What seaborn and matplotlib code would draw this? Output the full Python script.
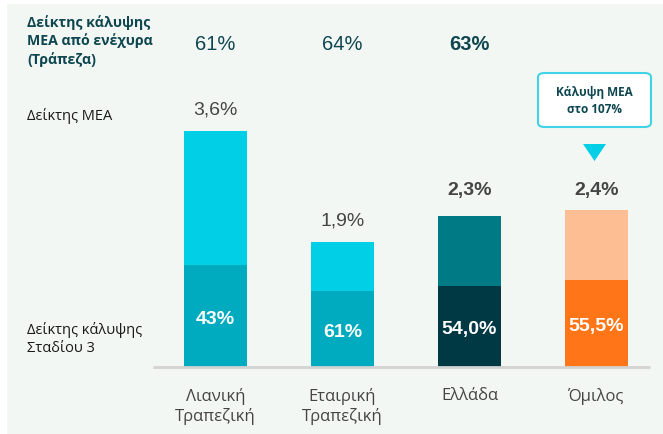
import matplotlib
matplotlib.use("Agg")
import matplotlib.pyplot as plt
import seaborn as sns
import pandas as pd
from matplotlib.patches import FancyBboxPatch, Polygon, Rectangle

# data
categories = ["Λιανική\nΤραπεζική", "Εταιρική\nΤραπεζική", "Ελλάδα", "Όμιλος"]
npe_ratio = [3.6, 1.9, 2.3, 2.4]
npe_labels = ["3,6%", "1,9%", "2,3%", "2,4%"]
stage3_coverage = [0.43, 0.61, 0.54, 0.555]
stage3_labels = ["43%", "61%", "54,0%", "55,5%"]
collateral_coverage = ["61%", "64%", "63%"]

top_colors = ["#00cfe6", "#00cfe6", "#007a85", "#fdbe94"]
low_colors = ["#00abbf", "#00abbf", "#003843", "#ff7518"]
bold_cols = [False, False, True, True]

BG = "#f3f7f4"
DARK = "#0e4650"
GREY = "#454545"

df = pd.DataFrame(dict(cat=categories, total=npe_ratio,
                       low=[t * c for t, c in zip(npe_ratio, stage3_coverage)]))

W, H = 663, 435
fig = plt.figure(figsize=(W / 100, H / 100), dpi=100)
fig.patch.set_facecolor("white")
fig.patches.append(Rectangle((7 / W, 0), 1, 1 - 5 / H, transform=fig.transFigure,
                             facecolor=BG, edgecolor="none", zorder=-5))

base_px = 368
unit_px = 65.6
ax = fig.add_axes([0, (H - base_px) / H, 1, base_px / H])
ax.set_facecolor("none")

sns.barplot(df, x="cat", y="total", hue="cat", palette=top_colors, legend=False,
            width=0.5, saturation=1, ax=ax)
sns.barplot(df, x="cat", y="low", hue="cat", palette=low_colors, legend=False,
            width=0.5, saturation=1, ax=ax)

spacing = 127
x0 = 215.5
ax.set_xlim(-x0 / spacing, (W - x0) / spacing)
ax.set_ylim(0, base_px / unit_px)
ax.axis("off")
ax.plot([(153 - x0) / spacing, (650 - x0) / spacing], [0, 0], color="#d3d3d3",
        lw=2, solid_capstyle="butt", clip_on=False)

num_font = "Liberation Sans"
txt_font = "Open Sans"

for i, (tot, lab, low, slab, b) in enumerate(zip(npe_ratio, npe_labels, df["low"],
                                                 stage3_labels, bold_cols)):
    top_y = 2.36 if i >= 2 else tot
    ax.annotate(lab, (i, top_y), xytext=(0, 16), textcoords="offset points",
                ha="center", va="center", fontsize=14, color=GREY,
                fontweight="bold" if b else "normal", family=num_font)
    ax.text(i, low / 2 - 0.04, slab, ha="center", va="center", fontsize=14,
            color="white", fontweight="bold", family=num_font)
    ax.text(i, -0.30, categories[i], ha="center", va="top", fontsize=12,
            color=GREY, family=txt_font, linespacing=1.25)

for i, lab in enumerate(collateral_coverage):
    ax.text(i, (base_px - 44) / unit_px, lab, ha="center", va="center",
            fontsize=14.5, color=DARK, family=num_font,
            fontweight="bold" if i == 2 else "normal")


def fx(px):
    return px / W


def fy(py):
    return 1 - py / H


fig.text(fx(27), fy(41), "Δείκτης κάλυψης\nΜΕΑ από ενέχυρα\n(Τράπεζα)", ha="left",
         va="center", fontsize=10.2, fontweight="bold", color=DARK, family=txt_font,
         linespacing=1.3)
fig.text(fx(27), fy(116), "Δείκτης ΜΕΑ", ha="left", va="center", fontsize=10.5,
         color="#1a1a1a", family=txt_font)
fig.text(fx(27), fy(339), "Δείκτης κάλυψης\nΣταδίου 3", ha="left", va="center",
         fontsize=10.5, color="#1a1a1a", family=txt_font, linespacing=1.25)

# callout
fig.patches.append(FancyBboxPatch((fx(538), fy(128)), fx(113), 54 / H,
                                  boxstyle="round,pad=0,rounding_size=0.01",
                                  transform=fig.transFigure, facecolor="white",
                                  edgecolor="#3fd3e6", lw=1.5, zorder=2))
fig.patches.append(Polygon([(fx(583), fy(145)), (fx(606), fy(145)), (fx(594.5), fy(162))],
                           closed=True, transform=fig.transFigure,
                           facecolor="#00cfe6", edgecolor="none", zorder=2))
fig.text(fx(594.5), fy(101), "Κάλυψη ΜΕΑ\nστο 107%", ha="center", va="center",
         fontsize=8.5, fontweight="bold", color=DARK, family=txt_font,
         linespacing=1.35, zorder=3)

fig.savefig("out.png", dpi=100, facecolor=fig.get_facecolor())
